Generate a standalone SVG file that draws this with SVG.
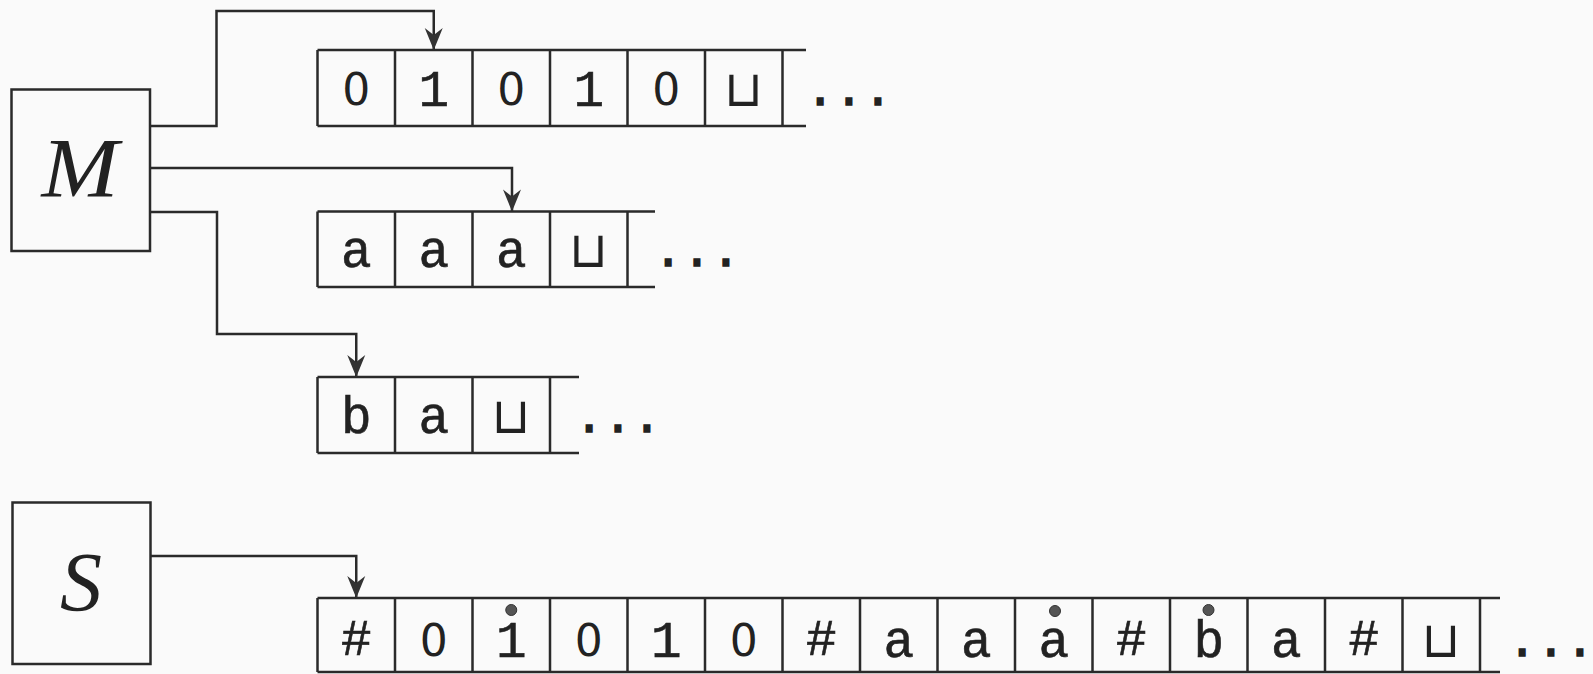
<svg xmlns="http://www.w3.org/2000/svg" width="1593" height="674" viewBox="0 0 1593 674">
<style>
.ln{fill:none;stroke:#2a2a2a;stroke-width:2.5}
.box{fill:none;stroke:#2a2a2a;stroke-width:2.5}
.tt{font-family:"Liberation Mono","Courier New",monospace;font-size:51px;fill:#222;text-anchor:middle;stroke:#222;stroke-width:0.6}
.z{font-family:"DejaVu Sans",sans-serif;font-size:44px;fill:#222;text-anchor:middle}
.sq{font-family:"DejaVu Sans",sans-serif;font-size:50px;fill:#222;text-anchor:middle}
.dots{font-family:"Liberation Mono","Courier New",monospace;font-size:48px;fill:#222;text-anchor:middle;stroke:#222;stroke-width:1.6}
.big{font-family:"Liberation Serif","Times New Roman",serif;font-style:italic;font-size:84px;fill:#222;text-anchor:middle}
.mk{fill:#333;stroke:none}
.hd{fill:#555;stroke:#333;stroke-width:1}
</style>
<defs>
<marker id="arr" markerUnits="userSpaceOnUse" viewBox="-24 -11 26 22" refX="0" refY="0" markerWidth="26" markerHeight="22" orient="auto">
<path class="mk" d="M0,0 L-22,-9 L-15,0 L-22,9 Z"/>
</marker>
</defs>
<rect x="0" y="0" width="1593" height="674" fill="#fafafa"/>

<g id="node-M">
<rect class="box" x="11.5" y="89.5" width="138.5" height="161.5"/>
<text class="big" x="80" y="197" transform="translate(80 0) scale(1.1 1) translate(-80 0)">M</text>
</g>

<g id="node-S">
<rect class="box" x="12.5" y="502.5" width="138" height="161.5"/>
<text class="big" x="81" y="611">S</text>
</g>

<g id="tape1">
<path class="ln" d="M317.5,50 H806 M317.5,126 H806 M317.5,50 V126 M395,50 V126 M472.5,50 V126 M550,50 V126 M627.5,50 V126 M705,50 V126 M782.5,50 V126"/>
<text class="z" x="356.25" y="105">0</text>
<text class="tt" x="433.75" y="106">1</text>
<text class="z" x="511.25" y="105">0</text>
<text class="tt" x="588.75" y="106">1</text>
<text class="z" x="666.25" y="105">0</text>
<text class="sq" x="743.75" y="106">⊔</text>
<text class="dots" x="849" y="105">...</text>
</g>

<g id="tape2">
<path class="ln" d="M317.5,211.5 H655 M317.5,287 H655 M317.5,211.5 V287 M395,211.5 V287 M472.5,211.5 V287 M550,211.5 V287 M627.5,211.5 V287"/>
<text class="tt" x="356.25" y="267">a</text>
<text class="tt" x="433.75" y="267">a</text>
<text class="tt" x="511.25" y="267">a</text>
<text class="sq" x="588.75" y="267">⊔</text>
<text class="dots" x="697" y="266">...</text>
</g>

<g id="tape3">
<path class="ln" d="M317.5,377 H579 M317.5,453 H579 M317.5,377 V453 M395,377 V453 M472.5,377 V453 M550,377 V453"/>
<text class="tt" x="356.25" y="433">b</text>
<text class="tt" x="433.75" y="433">a</text>
<text class="sq" x="511.25" y="433">⊔</text>
<text class="dots" x="618" y="432">...</text>
</g>

<g id="tape4">
<path class="ln" d="M317.5,598 H1500 M317.5,672 H1500 M317.5,598 V672 M395,598 V672 M472.5,598 V672 M550,598 V672 M627.5,598 V672 M705,598 V672 M782.5,598 V672 M860,598 V672 M937.5,598 V672 M1015,598 V672 M1092.5,598 V672 M1170,598 V672 M1247.5,598 V672 M1325,598 V672 M1402.5,598 V672 M1480,598 V672"/>
<text class="tt" x="356.25" y="655">#</text>
<text class="z" x="433.75" y="656">0</text>
<text class="tt" x="511.25" y="657">1</text>
<text class="z" x="588.75" y="656">0</text>
<text class="tt" x="666.25" y="657">1</text>
<text class="z" x="743.75" y="656">0</text>
<text class="tt" x="821.25" y="655">#</text>
<text class="tt" x="898.75" y="657">a</text>
<text class="tt" x="976.25" y="657">a</text>
<text class="tt" x="1053.75" y="657">a</text>
<text class="tt" x="1131.25" y="655">#</text>
<text class="tt" x="1208.75" y="657">b</text>
<text class="tt" x="1286.25" y="657">a</text>
<text class="tt" x="1363.75" y="655">#</text>
<text class="sq" x="1441.25" y="657">⊔</text>
<text class="dots" x="1551" y="656">...</text>
<circle class="hd" cx="511.25" cy="610" r="5.5"/>
<circle class="hd" cx="1055" cy="611" r="5.5"/>
<circle class="hd" cx="1208.5" cy="610" r="5.5"/>
</g>

<g id="connectors">
<path class="ln" marker-end="url(#arr)" d="M150,126 H216.5 V11 H433.75 V50"/>
<path class="ln" marker-end="url(#arr)" d="M150,168 H512 V211.5"/>
<path class="ln" marker-end="url(#arr)" d="M150,212 H217 V334 H356.25 V377"/>
<path class="ln" marker-end="url(#arr)" d="M150,556 H356.25 V598"/>
</g>
</svg>
